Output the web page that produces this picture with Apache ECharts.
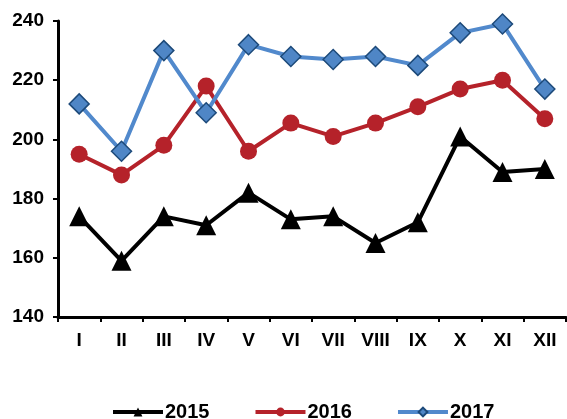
<!DOCTYPE html>
<html><head><meta charset="utf-8">
<script src="https://cdn.jsdelivr.net/npm/echarts@6/dist/echarts.min.js"></script>
<style>html,body{margin:0;padding:0;background:#fff}#c{width:567px;height:419px}</style>
</head><body><div id="c"></div>
<script>
const categories = ['I','II','III','IV','V','VI','VII','VIII','IX','X','XI','XII'];
const s2015 = [174,159,174,171,182,173,174,165,172,201,189,190];
const s2016 = [195,188,198,218,196,205.5,201,205.5,211,217,220,207];
const s2017 = [212,196,230,209,232,228,227,228,225,236,239,217];
const yTicks = {min:140, max:240, interval:20};

const font = {fontFamily:'Liberation Sans, Arial', fontWeight:'bold', fontSize:19, color:'#000'};
const chart = echarts.init(document.getElementById('c'), null, {renderer:'canvas'});
chart.setOption({
  animation:false,
  grid:{left:58, right:1, top:21, bottom:102},
  xAxis:{type:'category', data:categories, boundaryGap:true,
    axisLine:{lineStyle:{color:'#000', width:3}},
    axisTick:{show:true, length:5, lineStyle:{width:2, color:'#000'}},
    axisLabel:Object.assign({margin:14}, font)},
  yAxis:{type:'value', min:yTicks.min, max:yTicks.max, interval:yTicks.interval,
    splitLine:{show:false},
    axisLine:{show:true, lineStyle:{color:'#000', width:3}},
    axisTick:{show:true, length:5, lineStyle:{width:2, color:'#000'}},
    axisLabel:Object.assign({margin:14}, font)},
  legend:{top:397, left:106, itemWidth:50, itemHeight:11, itemGap:44,
    lineStyle:{width:4},
    textStyle:Object.assign({}, font, {fontSize:20, padding:[0,0,0,-3]})},
  series:[
    {name:'2015', type:'line', data:s2015, symbol:'triangle', symbolSize:20,
      lineStyle:{color:'#000', width:4}, itemStyle:{color:'#000'}},
    {name:'2016', type:'line', data:s2016, symbol:'circle', symbolSize:17,
      lineStyle:{color:'#B5222A', width:4}, itemStyle:{color:'#B5222A'}},
    {name:'2017', type:'line', data:s2017, symbol:'diamond', symbolSize:20,
      lineStyle:{color:'#5189CC', width:4}, itemStyle:{color:'#4F86C6', borderColor:'#1D4A7A', borderWidth:1.5}}
  ]
});
</script></body></html>
